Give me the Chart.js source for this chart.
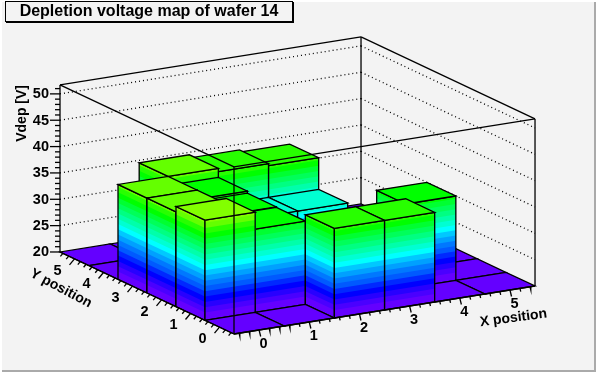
<!DOCTYPE html>
<html>
<head>
<meta charset="utf-8">
<title>Depletion voltage map of wafer 14</title>
<script src="https://cdn.jsdelivr.net/npm/chart.js@4"></script>
<style>
  html, body { margin: 0; padding: 0; background: #f3f3f3; }
  canvas { display: block; }
</style>
</head>
<body>
<canvas id="legoChart" width="596" height="372"></canvas>
<script>
const titleText = "Depletion voltage map of wafer 14";
const xTitle = "X position";
const yTitle = "Y position";
const zTitle = "Vdep [V]";

const xTicks = [0, 1, 2, 3, 4, 5];
const yTicks = [0, 1, 2, 3, 4, 5];
const zTicks = [20, 25, 30, 35, 40, 45, 50];

// depletion voltage per bin, one array per y bin, 20 = nothing above the floor
const vdepY0 = [20, 20, 37, 37, 20, 20];
const vdepY1 = [39, 35.8, 20, 20, 36, 20];
const vdepY2 = [38, 35.9, 20, 20, 20, 20];
const vdepY3 = [38, 36.3, 31, 31, 20, 20];
const vdepY4 = [20, 38, 37.4, 37, 20, 20];
const vdepY5 = [20, 20, 20, 20, 20, 20];
const vdepRows = [vdepY0, vdepY1, vdepY2, vdepY3, vdepY4, vdepY5];

// colour bands, one per volt, the first one reaches up to 21.5 V
const bandColors = [
  "#6400ff", "#4a00ff", "#2800ff", "#0000ff", "#0028ff", "#005aff", "#0078ff",
  "#00a0ff", "#00c8ff", "#00ffff", "#00ffd2", "#00ffaa", "#00ff82", "#00ff5a",
  "#00ff32", "#00ff00", "#28ff00", "#64ff00", "#82ff00"
];

const zMin = 20, zMax = 51.7;
const xLow = -0.5, xHigh = 5.5, yLow = -0.5, yHigh = 5.5;

// parallel projection of the box on the canvas plane
function project(x, y, z) {
  const ax = x - xLow, ay = y - yLow, az = z - zMin;
  return {
    x: 234 + ax * 50.17 - ay * 29,
    y: 334 - ax * 8 - ay * 13.67 - az * 5.27
  };
}

const datasets = [];

function addShape(points, fillColor, lineColor) {
  datasets.push({
    data: points,
    showLine: true,
    pointRadius: 0,
    fill: fillColor ? "shape" : false,
    backgroundColor: fillColor || "transparent",
    borderColor: lineColor || "transparent",
    borderWidth: lineColor ? 1.3 : 0
  });
}

function addLine(p, q, dash) {
  datasets.push({
    data: [p, q],
    showLine: true,
    pointRadius: 0,
    fill: false,
    borderColor: "#000",
    borderWidth: dash ? 1.3 : 1.3,
    borderDash: dash || []
  });
}

function bandIndex(z) {
  return Math.min(Math.max(Math.floor(z - zMin - 0.5), 0), bandColors.length - 1);
}

// one wall of a bar, painted band by band from the floor up
function addWall(x0, y0, x1, y1, top) {
  const topBand = bandIndex(top);
  for (let k = 0; k <= topBand; k++) {
    const z = k === 0 ? zMin : zMin + k + 0.5;
    addShape([project(x0, y0, z), project(x1, y1, z), project(x1, y1, top), project(x0, y0, top), project(x0, y0, z)], bandColors[k]);
  }
  addShape([project(x0, y0, zMin), project(x1, y1, zMin), project(x1, y1, top), project(x0, y0, top), project(x0, y0, zMin)], null, "#000");
}

// back walls and their dotted grid
addLine(project(xLow, yHigh, zMin), project(xLow, yHigh, zMax));
addLine(project(xLow, yHigh, zMax), project(xHigh, yHigh, zMax));
addLine(project(xHigh, yHigh, zMin), project(xHigh, yHigh, zMax));
addLine(project(xHigh, yHigh, zMax), project(xHigh, yLow, zMax));
addLine(project(xHigh, yLow, zMin), project(xHigh, yLow, zMax));
zTicks.slice(1).forEach(z => {
  addLine(project(xLow, yHigh, z), project(xHigh, yHigh, z), [1, 3]);
  addLine(project(xHigh, yHigh, z), project(xHigh, yLow, z), [1, 3]);
});

// bins from the back corner to the front one
for (let j = yTicks.length - 1; j >= 0; j--) {
  for (let i = xTicks.length - 1; i >= 0; i--) {
    const top = vdepRows[j][i];
    const x0 = xTicks[i] - 0.5, x1 = xTicks[i] + 0.5;
    const y0 = yTicks[j] - 0.5, y1 = yTicks[j] + 0.5;
    if (top > zMin) {
      addWall(x0, y1, x0, y0, top);
      addWall(x0, y0, x1, y0, top);
    }
    addShape([project(x0, y0, top), project(x1, y0, top), project(x1, y1, top), project(x0, y1, top), project(x0, y0, top)], bandColors[bandIndex(top)], "#000");
  }
}

// front edges of the box go over the bars
addLine(project(xLow, yLow, zMin), project(xLow, yLow, zMax));
addLine(project(xLow, yHigh, zMax), project(xLow, yLow, zMax));
addLine(project(xLow, yLow, zMax), project(xHigh, yLow, zMax));

// axis lines with major and minor ticks
addLine(project(xLow, yLow, zMin), project(xHigh, yLow, zMin));
addLine(project(xLow, yLow, zMin), project(xLow, yHigh, zMin));

function addTick(p, dx, dy) {
  addLine(p, { x: p.x + dx, y: p.y + dy });
}

for (let z = zMin; z <= 51; z++) {
  const p = project(xLow, yHigh, z);
  addTick(p, zTicks.includes(z) ? -10 : -5, 0);
}
for (let v = -0.4; v < 5.5; v += 0.2) {
  const major = Math.abs(v - Math.round(v)) < 0.01;
  const px = project(v, yLow, zMin), py = project(xLow, v, zMin);
  addTick(px, major ? 1.6 : 0.8, major ? 6.5 : 3.2);
  addTick(py, major ? -5 : -2.5, major ? 6 : 3);
}

const textPlugin = {
  id: "rootFrame",
  beforeDraw(chart) {
    const c = chart.ctx;
    c.save();
    c.fillStyle = "#f3f3f3";
    c.fillRect(0, 0, 596, 372);
    c.fillStyle = "#fff";
    c.fillRect(0, 0, 596, 2);
    c.fillRect(0, 0, 2, 372);
    c.fillStyle = "#aaa";
    c.fillRect(594, 2, 2, 370);
    c.fillRect(2, 370, 594, 2);
    c.restore();
  },
  afterDraw(chart) {
    const c = chart.ctx;
    const sx = chart.scales.x, sy = chart.scales.y;
    const put = (text, p, dx, dy, align, angle) => {
      c.save();
      c.translate(sx.getPixelForValue(p.x) + dx, sy.getPixelForValue(p.y) + dy);
      c.rotate((angle || 0) * Math.PI / 180);
      c.textAlign = align;
      c.textBaseline = "middle";
      c.fillText(text, 0, 0);
      c.restore();
    };
    c.save();
    // title box with its heavier bottom and right edge
    c.fillStyle = "#f3f3f3";
    c.strokeStyle = "#000";
    c.lineWidth = 1;
    c.fillRect(5.5, 1.5, 287, 20);
    c.strokeRect(5.5, 1.5, 287, 20);
    c.fillStyle = "#000";
    c.fillRect(6, 22, 288, 1);
    c.fillRect(293, 2, 1, 21);
    c.font = "bold 16px 'Liberation Sans'";
    c.textAlign = "center";
    c.textBaseline = "middle";
    c.fillText(titleText, 149, 12);

    c.font = "bold 14.5px 'Liberation Sans'";
    zTicks.forEach(z => put(String(z), project(xLow, yHigh, z), -11, 0.5, "right"));
    xTicks.forEach(v => put(String(v), project(v, yLow, zMin), 4.5, 14, "center"));
    yTicks.forEach(v => put(String(v), project(xLow, v, zMin), -17, 12, "center"));
    c.font = "bold 14px 'Liberation Sans'";
    put(zTitle, { x: 22.5, y: 85 }, 0, 0, "right", -90);
    put(yTitle, { x: 61, y: 288.5 }, 0, 0, "center", 28);
    put(xTitle, { x: 513.5, y: 318 }, 0, 0, "center", -7.5);
    c.restore();
  }
};

new Chart(document.getElementById("legoChart").getContext("2d"), {
  type: "scatter",
  data: { datasets: datasets.reverse() },
  options: {
    responsive: false,
    animation: false,
    events: [],
    parsing: false,
    layout: { padding: 0 },
    plugins: {
      legend: { display: false },
      tooltip: { enabled: false },
      title: { display: false }
    },
    scales: {
      x: { type: "linear", display: false, min: 0, max: 596 },
      y: { type: "linear", display: false, min: 0, max: 372, reverse: true }
    }
  },
  plugins: [textPlugin]
});
</script>
</body>
</html>
